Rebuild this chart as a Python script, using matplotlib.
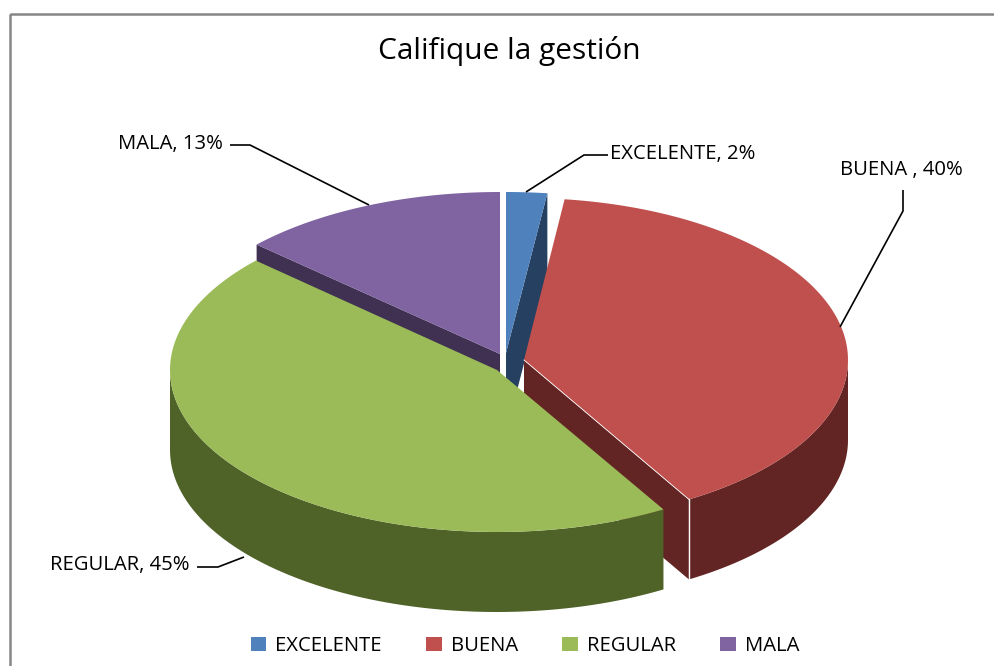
import numpy as np
import matplotlib
matplotlib.use('Agg')
import matplotlib.pyplot as plt
from matplotlib.patches import Patch, Polygon, Rectangle

plt.rcParams['font.family'] = ['Open Sans', 'DejaVu Sans']

# datos
categorias = ['EXCELENTE', 'BUENA', 'REGULAR', 'MALA']
valores = [2, 39.5, 45.3, 13.2]
etiquetas = ['EXCELENTE, 2%', 'BUENA , 40%', 'REGULAR, 45%', 'MALA, 13%']
titulo = 'Califique la gestión'

colores = ['#4F81BD', '#C0504D', '#9BBB59', '#8064A2']
oscuros = ['#254061', '#632523', '#4F6228', '#403152']

# vertice de cada porcion (pixeles), con su separacion
vertices = [(506, 353), (524, 360), (497, 370), (500, 354)]
radios = [(330, 161), (324, 162), (327, 162), (330, 162)]
prof = 80

fig = plt.figure(figsize=(9.95, 6.66), dpi=100)
ax = fig.add_axes([0, 0, 1, 1])
ax.set_xlim(0, 995)
ax.set_ylim(666, 0)
ax.axis('off')


# punto sobre la elipse, angulo en grados desde arriba en sentido horario
def punto(i, ang):
    a = np.radians(ang)
    x0, y0 = vertices[i]
    rx, ry = radios[i]
    return np.column_stack([x0 + rx * np.sin(a), y0 - ry * np.cos(a)])


def bajar(pts):
    return pts + np.array([0, prof])


bordes = np.concatenate([[0], np.cumsum(valores)]) * 3.6

# caras de corte visibles, de atras hacia adelante
orden = [3, 0, 1, 2]
for i in orden:
    ini, fin = bordes[i], bordes[i + 1]
    vert = np.array([vertices[i]], dtype=float)

    # cara del corte
    if i in (0, 1):
        borde = punto(i, np.array([fin]))
    elif i == 3:
        borde = punto(i, np.array([ini]))
    else:
        borde = None
    if borde is not None:
        cara = np.vstack([vert, borde, bajar(borde), bajar(vert)])
        ax.add_patch(Polygon(cara, closed=True, fc=oscuros[i], ec='none'))

    # pared exterior, solo la mitad de abajo
    a0, a1 = max(ini, 90), min(fin, 270)
    if a1 > a0:
        arco = punto(i, np.linspace(a0, a1, 80))
        pared = np.vstack([arco, bajar(arco)[::-1]])
        ax.add_patch(Polygon(pared, closed=True, fc=oscuros[i], ec='none'))

    # tapa
    arco = punto(i, np.linspace(ini, fin, 120))
    ax.add_patch(Polygon(np.vstack([vert, arco]), closed=True, fc=colores[i], ec='none'))

    # filo blanco en la esquina de BUENA
    if i == 1:
        esquina = punto(i, np.array([fin]))[0]
        ax.plot([esquina[0], esquina[0]], [esquina[1], esquina[1] + prof], color='white', lw=1)
        ax.plot([vertices[i][0], esquina[0]], [vertices[i][1], esquina[1]], color='white', lw=0.6)

# lineas guia
guias = [
    ([526, 584, 608], [192, 155, 155]),
    ([903, 903, 840], [190, 211, 327]),
    ([197, 218, 244], [567, 567, 557]),
    ([230, 250, 369], [145, 145, 205]),
]
for xs, ys in guias:
    ax.plot(xs, ys, color='black', lw=1.2, solid_capstyle='butt')

# etiquetas
pos_etq = [(610, 154, 'left'), (963, 170, 'right'), (189, 565, 'right'), (223, 144, 'right')]
for txt, (x, y, ha) in zip(etiquetas, pos_etq):
    ax.text(x, y, txt, ha=ha, va='center', fontsize=14.6, color='black')

ax.text(509, 51, titulo, ha='center', va='center', fontsize=21.5, color='black')

# marco del grafico
ax.add_patch(Rectangle((9.5, 14), 1100, 800, fc='none', ec='#868686', lw=1.8))

# leyenda
handles = [Patch(fc=c, ec='none') for c in colores]
ax.legend(handles, categorias, ncol=4, loc='center', bbox_to_anchor=(525, 646),
          bbox_transform=ax.transData, frameon=False, fontsize=14.6,
          handlelength=0.75, handleheight=0.75, handletextpad=0.45, columnspacing=2.2)

fig.savefig('out.png', dpi=100)
